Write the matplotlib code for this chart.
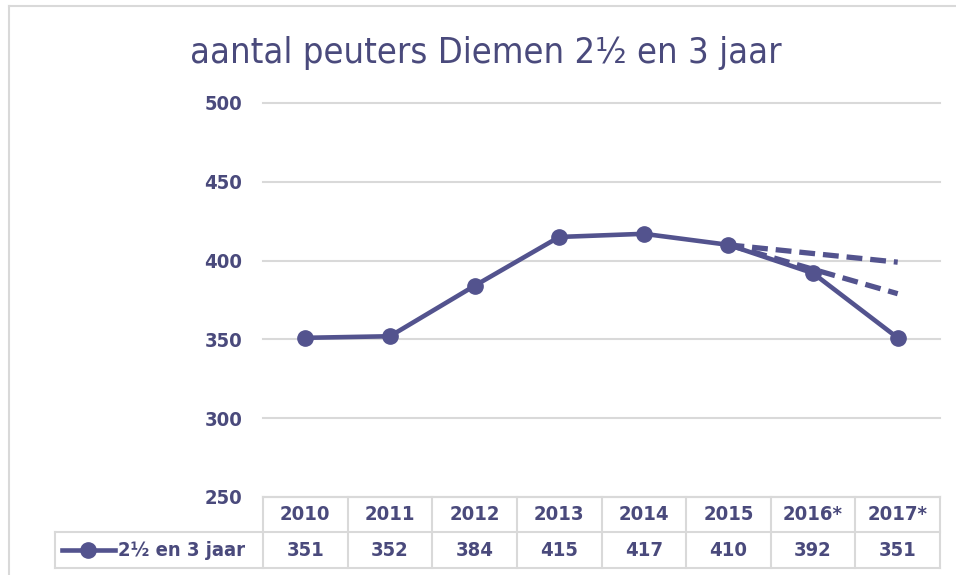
import matplotlib.pyplot as plt
from matplotlib.lines import Line2D
from matplotlib.transforms import blended_transform_factory

# data
jaren = ['2010', '2011', '2012', '2013', '2014', '2015', '2016*', '2017*']
peuters = [351, 352, 384, 415, 417, 410, 392, 351]
# trendlijnen (prognose) vanaf 2015
trend_x = [5, 7]
trend_hoog = [410, 399]
trend_laag = [410, 379]
reeks_naam = '2½ en 3 jaar'
titel = 'aantal peuters Diemen 2½ en 3 jaar'
y_ticks = [250, 300, 350, 400, 450, 500]

lijn_kleur = '#53538e'
tekst_kleur = '#4a4a7c'
rand_kleur = '#d9d9d9'

W, H = 956, 575
fig = plt.figure(figsize=(W / 100, H / 100), dpi=100)

# plotgebied in pixels
links, rechts, onder, boven = 263, 940, 497, 103
ax = fig.add_axes([links / W, 1 - onder / H, (rechts - links) / W, (onder - boven) / H])

x = list(range(len(jaren)))
ax.plot(trend_x, trend_hoog, color=lijn_kleur, lw=3.8, dashes=(3, 1.5), solid_capstyle='butt')
ax.plot(trend_x, trend_laag, color=lijn_kleur, lw=3.8, dashes=(3, 1.5), solid_capstyle='butt')
ax.plot(x, peuters, color=lijn_kleur, lw=3.3, marker='o', markersize=11, zorder=3)

ax.set_xlim(-0.5, len(jaren) - 0.5)
ax.set_ylim(250, 500)
ax.set_yticks(y_ticks)
ax.set_xticks([])
ax.yaxis.grid(True, color=rand_kleur, lw=1.5)
for gl in ax.yaxis.get_gridlines():
    gl.set_clip_on(False)
ax.set_axisbelow(True)
for s in ax.spines.values():
    s.set_visible(False)
ax.tick_params(axis='y', length=0, pad=15, labelsize=14.5, labelcolor=tekst_kleur)
for lbl in ax.get_yticklabels():
    lbl.set_fontweight('bold')
    lbl.set_fontstretch('condensed')

# titel
fig.text(486 / W, 1 - 63 / H, titel, ha='center', va='baseline', fontsize=26,
         fontstretch='condensed', color=tekst_kleur)

# datatabel onder de grafiek
tf = blended_transform_factory(ax.transData, fig.transFigure)
def fy(py):
    return 1 - py / H

rij_top, rij_mid, rij_onder = 497, 532, 568
tabel_links = 55
fig.add_artist(Line2D([links / W, rechts / W], [fy(rij_top)] * 2, color=rand_kleur, lw=1.5))
for py in (rij_mid, rij_onder):
    fig.add_artist(Line2D([tabel_links / W, rechts / W], [fy(py)] * 2, color=rand_kleur, lw=1.5))
fig.add_artist(Line2D([tabel_links / W] * 2, [fy(rij_mid), fy(rij_onder)], color=rand_kleur, lw=1.5))
for i in range(len(jaren) + 1):
    fig.add_artist(Line2D([i - 0.5] * 2, [fy(rij_top), fy(rij_onder)], transform=tf,
                          color=rand_kleur, lw=1.5))

tekst_opties = dict(ha='center', va='center', fontsize=14.5, fontweight='bold',
                    fontstretch='condensed', color=tekst_kleur)
for i, (jaar, waarde) in enumerate(zip(jaren, peuters)):
    fig.text(i, fy((rij_top + rij_mid) / 2), jaar, transform=tf, **tekst_opties)
    fig.text(i, fy((rij_mid + rij_onder) / 2), str(waarde), transform=tf, **tekst_opties)

# legendasleutel in de tabel
ym = fy((rij_mid + rij_onder) / 2)
fig.add_artist(Line2D([62 / W, 115 / W], [ym, ym], color=lijn_kleur, lw=3.3))
fig.add_artist(Line2D([88 / W], [ym], color=lijn_kleur, marker='o', markersize=11))
fig.text(118 / W, ym, reeks_naam, ha='left', va='center', fontsize=14.5, fontweight='bold',
         fontstretch='condensed', color=tekst_kleur)

# kader
fig.add_artist(Line2D([9 / W, 9 / W], [0, fy(6)], color=rand_kleur, lw=1.5))
fig.add_artist(Line2D([9 / W, 1], [fy(6), fy(6)], color=rand_kleur, lw=1.5))

fig.savefig('out.png', dpi=100, facecolor='white')
